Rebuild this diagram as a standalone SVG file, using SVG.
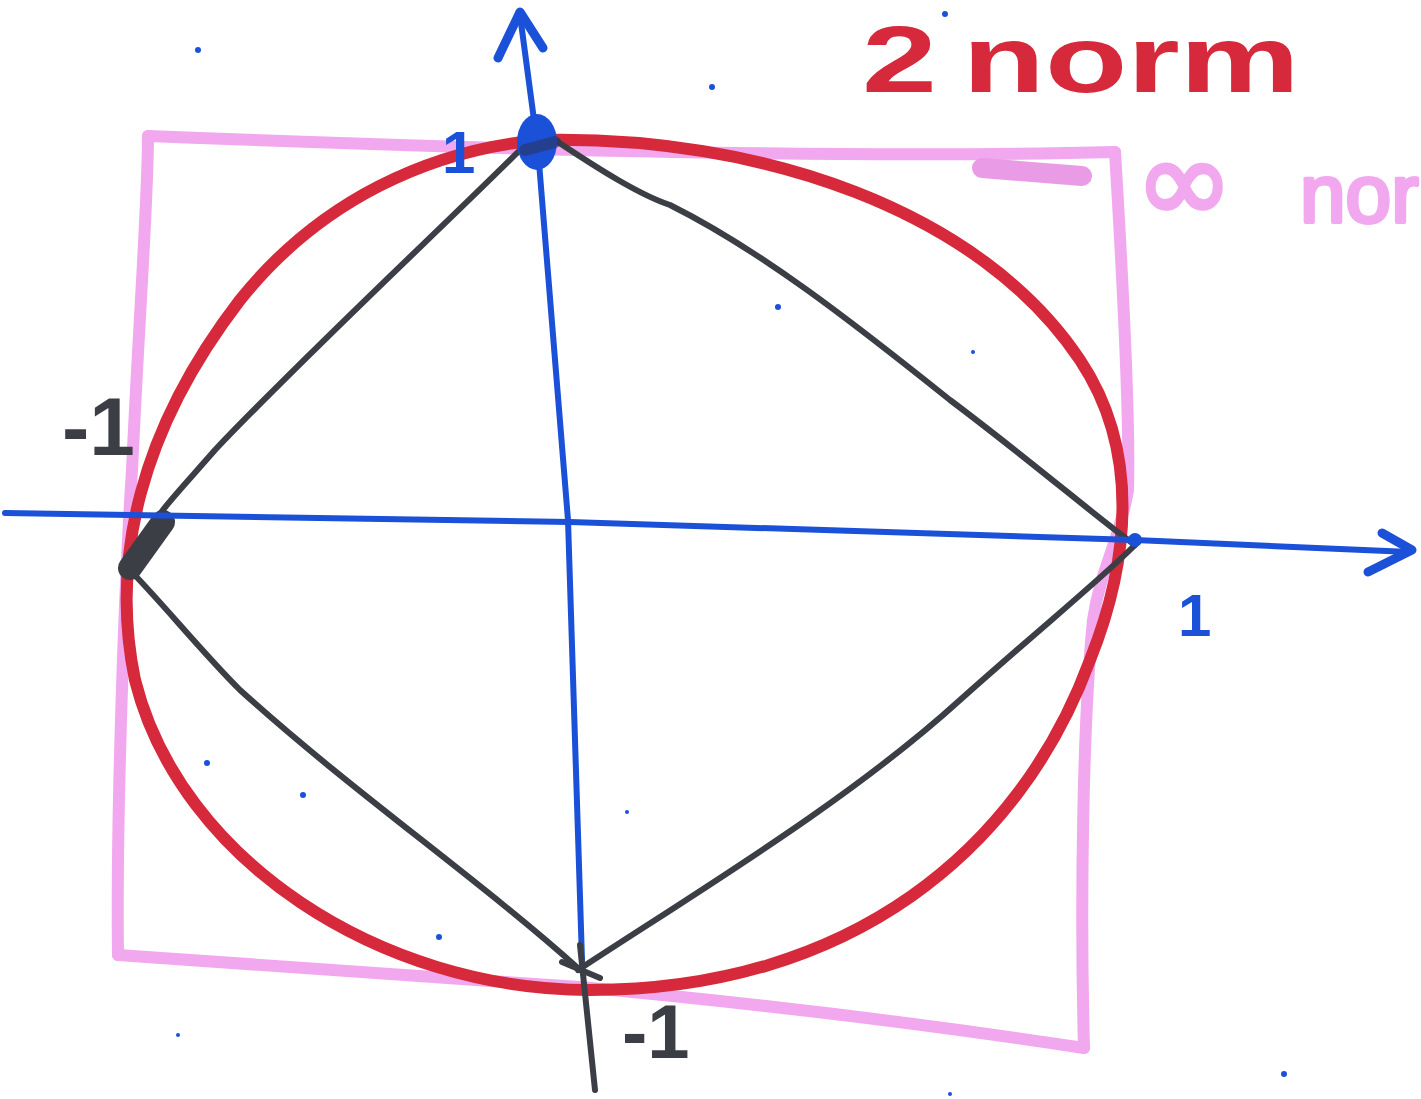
<svg xmlns="http://www.w3.org/2000/svg" width="1421" height="1099" viewBox="0 0 1421 1099">
<style>
.pink{fill:none;stroke:#f1a8ee;stroke-width:12;stroke-linecap:round;stroke-linejoin:round}
.red{fill:none;stroke:#d6293b;stroke-width:12;stroke-linecap:round;stroke-linejoin:round}
.blk{fill:none;stroke:#3b3e44;stroke-width:6;stroke-linecap:round;stroke-linejoin:round}
.blue{fill:none;stroke:#1b50d8;stroke-width:6;stroke-linecap:round;stroke-linejoin:round}
.arrow{fill:none;stroke:#1b50d8;stroke-width:9;stroke-linecap:round;stroke-linejoin:round}
.lbl{font-family:"Liberation Sans",Arial,sans-serif;font-weight:bold}
.speck{fill:#1b50d8}
</style>
<rect width="1421" height="1099" fill="#ffffff"/>
<g id="specks">
<circle class="speck" cx="198" cy="50" r="3"/>
<circle class="speck" cx="712" cy="87" r="3"/>
<circle class="speck" cx="945" cy="14" r="3"/>
<circle class="speck" cx="778" cy="307" r="3"/>
<circle class="speck" cx="973" cy="352" r="2"/>
<circle class="speck" cx="207" cy="763" r="3"/>
<circle class="speck" cx="303" cy="795" r="3"/>
<circle class="speck" cx="439" cy="937" r="3"/>
<circle class="speck" cx="627" cy="812" r="2"/>
<circle class="speck" cx="1284" cy="1074" r="3"/>
<circle class="speck" cx="178" cy="1035" r="2"/>
<circle class="speck" cx="950" cy="1094" r="2"/>
</g>
<g id="infinity-norm-square">
<path class="pink" d="M148,136 C400,146 800,160 1115,152"/>
<path class="pink" d="M1115,152 C1124,300 1130,420 1128,490 C1120,540 1100,570 1093,620 C1083,720 1080,900 1084,1048"/>
<path class="pink" d="M1084,1048 C900,1020 720,1000 580,987 C400,975 200,962 118,955"/>
<path class="pink" d="M118,955 C116,800 126,560 132,470 C140,300 148,200 148,136"/>
<path d="M982,168 L1082,176" fill="none" stroke="#e99be6" stroke-width="20" stroke-linecap="round"/>
</g>
<g id="two-norm-circle">
<path class="red" d="M540,140 C760,135 980,210 1080,360 C1140,450 1130,560 1090,660 C1020,850 850,990 590,990 C380,990 180,860 135,680 C110,560 140,430 240,300 C320,200 430,150 540,140 Z"/>
</g>
<g id="one-norm-diamond">
<path class="blk" d="M522,148 C450,220 300,360 215,450 C180,490 160,510 150,530"/>
<path class="blk" d="M125,565 C160,600 200,650 240,690 C350,790 480,880 580,970"/>
<path class="blk" d="M578,970 C700,890 850,800 960,700 C1050,620 1100,580 1135,545"/>
<path class="blk" d="M555,140 C600,170 640,195 670,205 C760,250 850,320 950,400 C1030,460 1100,520 1135,545"/>
<path d="M163,522 L130,568" fill="none" stroke="#3b3e44" stroke-width="24" stroke-linecap="round"/>
<path class="blk" d="M562,962 L600,978"/>
</g>
<g id="connectors">
<path class="blue" d="M5,513 L570,522 L1135,540 L1410,552"/>
<path class="arrow" d="M1382,533 L1412,550 L1368,572"/>
<path class="blue" d="M520,15 L538,150 L568,520 L582,960"/>
<path class="arrow" d="M498,58 L520,12 L543,48"/>
<path class="blk" d="M580,945 L595,1090"/>
<ellipse cx="537" cy="142" rx="20" ry="28" fill="#1b50d8"/>
<path d="M525,150 L555,142" stroke="#2d3560" stroke-width="12" stroke-linecap="round" opacity="0.6"/>
<circle cx="1135" cy="540" r="7" fill="#1b50d8"/>
</g>
<g id="labels">
<text class="lbl" x="442" y="173" font-size="60" fill="#1b50d8">1</text>
<text class="lbl" x="62" y="455" font-size="82" fill="#3b3e44">-1</text>
<text class="lbl" x="1178" y="636" font-size="60" fill="#1b50d8">1</text>
<text class="lbl" x="622" y="1058" font-size="76" fill="#3b3e44">-1</text>
<text class="lbl" transform="translate(862,92) scale(1.42,1)" x="0" y="0" font-size="95" fill="#d6293b">2<tspan dx="18">norm</tspan></text>
<text font-family="'Liberation Sans',Arial,sans-serif" font-size="82" fill="#f1a8ee" stroke="#f1a8ee" stroke-width="4" stroke-linejoin="round" x="1135" y="222"><tspan font-family="'DejaVu Sans',sans-serif" font-size="118">∞</tspan> <tspan x="1300" y="222">nor</tspan></text>
</g>
</svg>
